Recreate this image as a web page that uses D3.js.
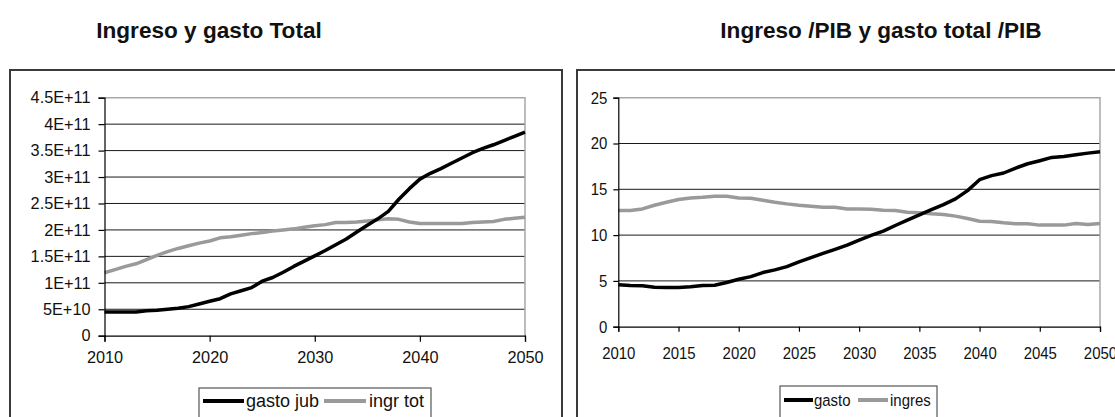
<!DOCTYPE html>
<html>
<head>
<meta charset="utf-8">
<script src="https://cdn.jsdelivr.net/npm/d3@7"></script>
<style>
  html, body { margin: 0; padding: 0; background: #fff; }
  svg { display: block; }
</style>
</head>
<body>
<svg id="chart" width="1115" height="417"></svg>
<script>
// Years shared by both panels
const years = d3.range(2010, 2051);

// Left panel: total pension spending and total income (currency units)
const gastoJub = [0.45, 0.45, 0.45, 0.45, 0.47, 0.48, 0.50, 0.52, 0.55, 0.60,
  0.65, 0.70, 0.79, 0.85, 0.91, 1.03, 1.10, 1.20, 1.31, 1.41,
  1.51, 1.61, 1.72, 1.83, 1.96, 2.09, 2.21, 2.35, 2.58, 2.78,
  2.96, 3.07, 3.16, 3.26, 3.36, 3.46, 3.54, 3.61, 3.69, 3.77, 3.85].map(v => v * 1e11);
const ingrTot = [1.19, 1.25, 1.31, 1.36, 1.44, 1.52, 1.59, 1.65, 1.70, 1.75,
  1.79, 1.85, 1.87, 1.90, 1.93, 1.95, 1.98, 2.00, 2.02, 2.05,
  2.08, 2.10, 2.14, 2.14, 2.15, 2.17, 2.19, 2.21, 2.20, 2.15,
  2.12, 2.12, 2.12, 2.12, 2.12, 2.14, 2.15, 2.16, 2.20, 2.22, 2.24].map(v => v * 1e11);
const leftYTicks = [0, 5e10, 1e11, 1.5e11, 2e11, 2.5e11, 3e11, 3.5e11, 4e11, 4.5e11];
const leftYLabels = ["0", "5E+10", "1E+11", "1.5E+11", "2E+11", "2.5E+11", "3E+11", "3.5E+11", "4E+11", "4.5E+11"];
const leftXTicks = [2010, 2020, 2030, 2040, 2050];

// Right panel: spending and income as % of GDP
const gastoPib = [4.57, 4.50, 4.46, 4.30, 4.28, 4.28, 4.35, 4.50, 4.53, 4.82,
  5.18, 5.47, 5.91, 6.20, 6.56, 7.07, 7.54, 8.00, 8.44, 8.91,
  9.46, 9.96, 10.43, 11.05, 11.63, 12.21, 12.79, 13.33, 13.95, 14.86,
  16.05, 16.49, 16.78, 17.32, 17.79, 18.12, 18.48, 18.59, 18.77, 18.95, 19.09];
const ingresPib = [12.68, 12.68, 12.86, 13.26, 13.59, 13.88, 14.06, 14.13, 14.24, 14.24,
  14.06, 14.02, 13.80, 13.59, 13.41, 13.26, 13.15, 13.04, 13.04, 12.86,
  12.86, 12.83, 12.72, 12.68, 12.50, 12.43, 12.32, 12.25, 12.07, 11.81,
  11.52, 11.49, 11.34, 11.23, 11.23, 11.09, 11.09, 11.09, 11.27, 11.16, 11.27];
const rightYTicks = [0, 5, 10, 15, 20, 25];
const rightXTicks = d3.range(2010, 2051, 5);

const BLACK = "#000";
const GREY = "#9a9a9a";
const FONT = "Arial, 'Liberation Sans', sans-serif";

const svg = d3.select("#chart");

// squeeze text horizontally, keeping each label's anchor point in place
function condense(sel, n) {
  if (n === 1) return;
  sel.each(function () {
    const t = d3.select(this);
    const xv = +t.attr("x") || 0;
    t.attr("x", xv / n).attr("transform", `scale(${n},1)`);
  });
}

function panel(cfg) {
  const g = svg.append("g");

  // outer frame
  g.append("rect")
    .attr("x", cfg.frame[0]).attr("y", cfg.frame[1])
    .attr("width", cfg.frame[2]).attr("height", cfg.frame[3])
    .attr("fill", "none").attr("stroke", "#3a3a3a").attr("stroke-width", 2);

  // title
  g.append("text")
    .attr("x", cfg.titleX).attr("y", 38)
    .attr("text-anchor", "middle")
    .attr("font-family", FONT)
    .attr("font-weight", "bold").attr("font-size", 22.6)
    .attr("fill", "#111")
    .text(cfg.title);

  const x = d3.scaleLinear().domain([2010, 2050]).range(cfg.xRange);
  const y = d3.scaleLinear().domain(cfg.yDomain).range(cfg.yRange);
  const [x0, x1] = cfg.xRange;
  const [yb, yt] = cfg.yRange;

  // horizontal gridlines
  g.append("g").selectAll("line")
    .data(cfg.yTicks.filter(t => t > cfg.yDomain[0] && t < cfg.yDomain[1]))
    .join("line")
    .attr("x1", x0).attr("x2", x1)
    .attr("y1", d => y(d)).attr("y2", d => y(d))
    .attr("stroke", "#1a1a1a").attr("stroke-width", 1);

  // plot area border (top / right)
  g.append("path")
    .attr("d", `M${x0},${yt}H${x1}V${yb}`)
    .attr("fill", "none").attr("stroke", "#a8a8a8").attr("stroke-width", 1.5);

  // series
  const line = d3.line().x((d, i) => x(years[i])).y(d => y(d));
  g.append("path").datum(cfg.series[1])
    .attr("d", line).attr("fill", "none")
    .attr("stroke", GREY).attr("stroke-width", 3.5).attr("stroke-linejoin", "round");
  g.append("path").datum(cfg.series[0])
    .attr("d", line).attr("fill", "none")
    .attr("stroke", BLACK).attr("stroke-width", 3.5).attr("stroke-linejoin", "round");

  // axes
  const yAxis = d3.axisLeft(y).tickValues(cfg.yTicks).tickSize(cfg.tick)
    .tickPadding(cfg.yPad)
    .tickFormat((d, i) => cfg.yLabels ? cfg.yLabels[i] : String(d));
  const xAxis = d3.axisBottom(x).tickValues(cfg.xTicks).tickSize(cfg.tick)
    .tickPadding(cfg.xPad).tickFormat(d3.format("d"));

  const ya = g.append("g").attr("transform", `translate(${x0},0)`).call(yAxis);
  const xa = g.append("g").attr("transform", `translate(0,${yb})`).call(xAxis);
  [ya, xa].forEach(a => {
    a.select(".domain").attr("stroke", "#000").attr("stroke-width", 1.2);
    a.selectAll(".tick line").attr("stroke", "#000").attr("stroke-width", 1.2);
    const txt = a.selectAll("text")
      .attr("font-family", FONT).attr("font-size", cfg.fontSize).attr("fill", "#111");
    condense(txt, cfg.narrow);
  });

  // legend
  const L = cfg.legend;
  const lg = g.append("g");
  lg.append("rect").attr("x", L.box[0]).attr("y", L.box[1])
    .attr("width", L.box[2]).attr("height", L.box[3])
    .attr("fill", "#fff").attr("stroke", "#555").attr("stroke-width", 1.2);
  L.items.forEach((it, i) => {
    lg.append("line").attr("x1", it.lx[0]).attr("x2", it.lx[1])
      .attr("y1", L.y).attr("y2", L.y)
      .attr("stroke", i === 0 ? BLACK : GREY).attr("stroke-width", 4);
    const t = lg.append("text").attr("x", it.tx).attr("y", L.y)
      .attr("dy", "0.35em")
      .attr("font-family", FONT).attr("font-size", L.fontSize).attr("fill", "#111")
      .text(it.label);
    condense(t, cfg.narrow);
  });
}

panel({
  frame: [10, 70, 552, 360],
  title: "Ingreso y gasto Total",
  titleX: 209,
  xRange: [104.5, 525],
  yRange: [335.7, 97.7],
  yDomain: [0, 4.5e11],
  yTicks: leftYTicks,
  yLabels: leftYLabels,
  xTicks: leftXTicks,
  tick: 6, yPad: 8, xPad: 10,
  narrow: 1,
  fontSize: 16.3,
  series: [gastoJub, ingrTot],
  legend: {
    box: [199, 388, 232, 40], y: 401, fontSize: 18,
    items: [
      { lx: [203, 244], tx: 246, label: "gasto jub" },
      { lx: [324, 366], tx: 369, label: "ingr tot" }
    ]
  }
});

panel({
  frame: [577, 70, 560, 360],
  title: "Ingreso /PIB y gasto total /PIB",
  titleX: 881,
  xRange: [618.3, 1100],
  yRange: [326.7, 97.7],
  yDomain: [0, 25],
  yTicks: rightYTicks,
  yLabels: null,
  xTicks: rightXTicks,
  tick: 5, yPad: 6, xPad: 15,
  narrow: 0.88,
  fontSize: 17,
  series: [gastoPib, ingresPib],
  legend: {
    box: [780, 386, 157, 40], y: 400, fontSize: 17,
    items: [
      { lx: [784, 813], tx: 814, label: "gasto" },
      { lx: [858, 888], tx: 890, label: "ingres" }
    ]
  }
});
</script>
</body>
</html>
